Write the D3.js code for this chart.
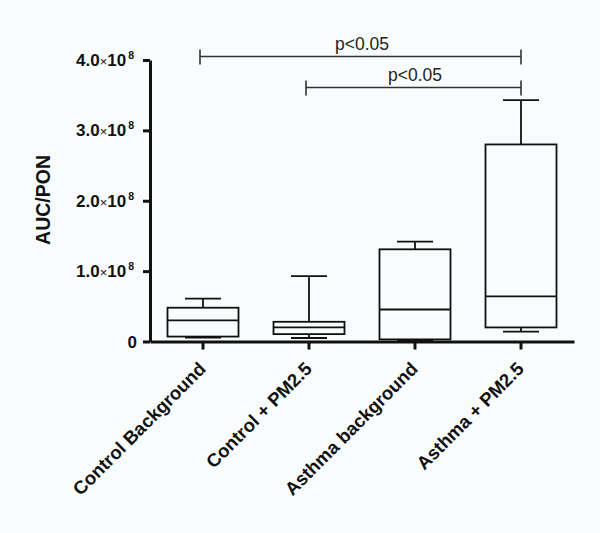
<!DOCTYPE html>
<html>
<head>
<meta charset="utf-8">
<script src="https://cdn.jsdelivr.net/npm/d3@7"></script>
<style>
  body { margin: 0; background: #f9fcfd; }
  svg { display: block; font-family: Arial, "Liberation Sans", sans-serif; }
</style>
</head>
<body>
<div id="chart"></div>
<script>
// groups and box statistics (units of 1e8)
var groups = ['Control Background', 'Control + PM2.5', 'Asthma background', 'Asthma + PM2.5'];
var whiskerLow = [0.057, 0.05, 0.015, 0.14];
var q1Values = [0.07, 0.105, 0.03, 0.2];
var medians = [0.30, 0.20, 0.455, 0.64];
var q3Values = [0.48, 0.28, 1.31, 2.80];
var whiskerHigh = [0.61, 0.93, 1.42, 3.43];
var yTicks = [0, 1, 2, 3, 4];

// significance brackets
var brackets = [
  { from: 0, to: 3, y: 4.05, label: 'p<0.05' },
  { from: 1, to: 3, y: 3.61, label: 'p<0.05' }
];

var svgWidth = 600;
var svgHeight = 533;

var svg = d3.select('#chart')
  .append('svg')
  .attr('width', svgWidth)
  .attr('height', svgHeight);

svg.append('rect')
  .attr('width', svgWidth)
  .attr('height', svgHeight)
  .attr('fill', '#f9fcfd');

var x = d3.scaleBand()
  .domain(groups)
  .range([150, 574])
  .padding(0);

var y = d3.scaleLinear()
  .domain([0, 4])
  .range([341.5, 60]);

var boxes = groups.map(function(g, i) {
  return {
    name: g,
    lo: whiskerLow[i],
    q1: q1Values[i],
    med: medians[i],
    q3: q3Values[i],
    hi: whiskerHigh[i]
  };
});

var boxW = 71;
var capW = 36;
var ink = '#111';
var lw = 1.8;

var boxG = svg.selectAll('.box')
  .data(boxes)
  .enter()
  .append('g')
  .attr('class', 'box')
  .attr('transform', d => `translate(${x(d.name) + x.bandwidth() / 2},0)`);

// whiskers
boxG.append('line')
  .attr('x1', 0).attr('x2', 0)
  .attr('y1', d => y(d.hi)).attr('y2', d => y(d.lo))
  .attr('stroke', ink).attr('stroke-width', lw);

boxG.append('line')
  .attr('x1', -capW / 2).attr('x2', capW / 2)
  .attr('y1', d => y(d.hi)).attr('y2', d => y(d.hi))
  .attr('stroke', ink).attr('stroke-width', lw);

boxG.append('line')
  .attr('x1', -capW / 2).attr('x2', capW / 2)
  .attr('y1', d => y(d.lo)).attr('y2', d => y(d.lo))
  .attr('stroke', ink).attr('stroke-width', lw);

// box body
boxG.append('rect')
  .attr('x', -boxW / 2)
  .attr('width', boxW)
  .attr('y', d => y(d.q3))
  .attr('height', d => y(d.q1) - y(d.q3))
  .attr('fill', '#f9fcfd')
  .attr('stroke', ink)
  .attr('stroke-width', lw);

boxG.append('line')
  .attr('x1', -boxW / 2).attr('x2', boxW / 2)
  .attr('y1', d => y(d.med)).attr('y2', d => y(d.med))
  .attr('stroke', ink).attr('stroke-width', lw);

// axes
var leftAxis = d3.axisLeft(y)
  .tickValues(yTicks)
  .tickSize(7)
  .tickSizeOuter(0)
  .tickFormat('');

var yAxis = svg.append('g')
  .attr('transform', 'translate(150,0)')
  .call(leftAxis);

yAxis.select('.domain').attr('stroke', ink).attr('stroke-width', 3);
yAxis.selectAll('.tick line').attr('stroke', ink).attr('stroke-width', 3);

// y tick labels with superscripts
yTicks.forEach(function(t) {
  var txt = svg.append('text')
    .attr('x', 134)
    .attr('y', y(t) + 6)
    .attr('text-anchor', 'end')
    .attr('font-size', 17)
    .attr('font-weight', 'bold')
    .attr('fill', ink);
  if (t === 0) {
    txt.attr('x', 137).text('0');
  } else {
    txt.append('tspan').text(t.toFixed(1));
    txt.append('tspan').attr('font-size', 13).attr('font-weight', 'normal').text('×');
    txt.append('tspan').text('10');
    txt.append('tspan')
      .attr('font-size', 10.5)
      .attr('dx', 2)
      .attr('dy', -7)
      .text('8');
  }
});

var bottomAxis = d3.axisBottom(x)
  .tickSize(8)
  .tickSizeOuter(0)
  .tickFormat('');

var xAxis = svg.append('g')
  .attr('transform', 'translate(0,' + 341.5 + ')')
  .call(bottomAxis);

xAxis.select('.domain').attr('stroke', ink).attr('stroke-width', 3);
xAxis.selectAll('.tick line').attr('stroke', ink).attr('stroke-width', 3);

// x labels rotated
svg.selectAll('.xlabel')
  .data(groups)
  .enter()
  .append('text')
  .attr('class', 'xlabel')
  .attr('transform', d => `translate(${x(d) + x.bandwidth() / 2 + 4},${370}) rotate(-45)`)
  .attr('text-anchor', 'end')
  .attr('font-size', 18.5)
  .attr('font-weight', 'bold')
  .attr('fill', ink)
  .text(d => d);

// y axis title
svg.append('text')
  .attr('transform', 'translate(50,200) rotate(-90)')
  .attr('text-anchor', 'middle')
  .attr('font-size', 19.5)
  .attr('font-weight', 'bold')
  .attr('fill', ink)
  .text('AUC/PON');

// significance brackets
var bG = svg.selectAll('.bracket')
  .data(brackets)
  .enter()
  .append('g')
  .attr('class', 'bracket');

bG.append('line')
  .attr('x1', d => x(groups[d.from]) + x.bandwidth() / 2 - 3)
  .attr('x2', d => x(groups[d.to]) + x.bandwidth() / 2)
  .attr('y1', d => y(d.y)).attr('y2', d => y(d.y))
  .attr('stroke', '#333').attr('stroke-width', 1.6);

bG.append('line')
  .attr('x1', d => x(groups[d.from]) + x.bandwidth() / 2 - 3)
  .attr('x2', d => x(groups[d.from]) + x.bandwidth() / 2 - 3)
  .attr('y1', d => y(d.y) - 7).attr('y2', d => y(d.y) + 8)
  .attr('stroke', '#333').attr('stroke-width', 1.6);

bG.append('line')
  .attr('x1', d => x(groups[d.to]) + x.bandwidth() / 2)
  .attr('x2', d => x(groups[d.to]) + x.bandwidth() / 2)
  .attr('y1', d => y(d.y) - 7).attr('y2', d => y(d.y) + 8)
  .attr('stroke', '#333').attr('stroke-width', 1.6);

bG.append('text')
  .attr('x', d => (x(groups[d.from]) + x(groups[d.to]) + x.bandwidth()) / 2)
  .attr('y', d => y(d.y) - 6)
  .attr('text-anchor', 'middle')
  .attr('font-size', 17.5)
  .attr('fill', '#222')
  .text(d => d.label);
</script>
</body>
</html>
